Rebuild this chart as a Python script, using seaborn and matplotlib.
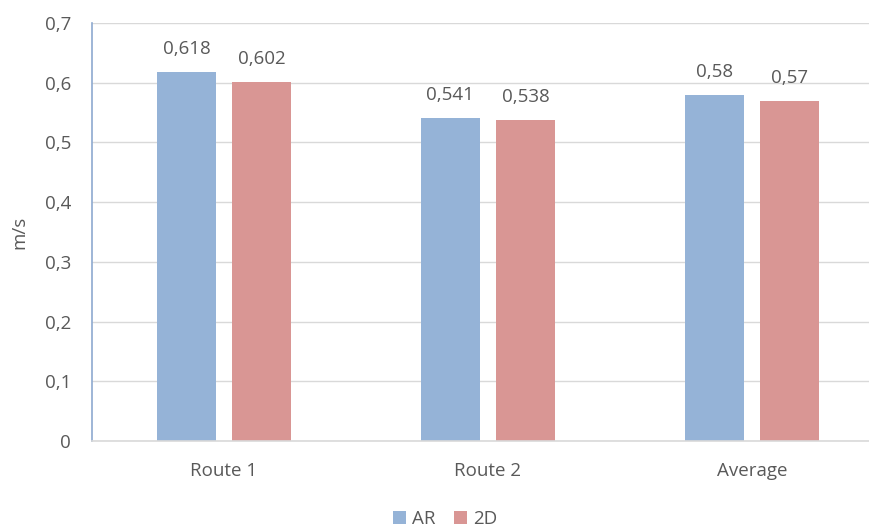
import matplotlib
matplotlib.use("Agg")
import matplotlib.pyplot as plt
import seaborn as sns
import pandas as pd
from matplotlib.ticker import FuncFormatter
from matplotlib.patches import Patch

categories = ["Route 1", "Route 2", "Average"]
series_names = ["AR", "2D"]
ar_values = [0.618, 0.541, 0.58]
td_values = [0.602, 0.538, 0.57]
y_ticks = [0, 0.1, 0.2, 0.3, 0.4, 0.5, 0.6, 0.7]

colors = {"AR": "#95B3D7", "2D": "#D99694"}
text_color = "#595959"
grid_color = "#D9D9D9"
fs = 13.5

df = pd.DataFrame({
    "category": categories * 2,
    "series": [series_names[0]] * len(categories) + [series_names[1]] * len(categories),
    "value": ar_values + td_values,
})

sns.set_theme(style="white")
plt.rcParams["font.family"] = ["Open Sans", "DejaVu Sans"]

fig = plt.figure(figsize=(8.7, 5.28), dpi=100)
# plot area runs past the right edge of the figure
ax = fig.add_axes([92 / 870, 1 - 441 / 528, 792 / 870, (441 - 23) / 528])

sns.barplot(data=df, x="category", y="value", hue="series", order=categories,
            hue_order=series_names, palette=colors, width=0.57, gap=0.22,
            ax=ax, legend=False, saturation=1, edgecolor="none")

ax.set_ylim(0, 0.7)
ax.set_xlim(-0.5, len(categories) - 0.5)
ax.set_yticks(y_ticks)
ax.yaxis.set_major_formatter(FuncFormatter(lambda v, _: f"{v:g}".replace(".", ",")))
ax.grid(axis="y", color=grid_color, linewidth=1)
ax.set_axisbelow(True)

for side in ["top", "right"]:
    ax.spines[side].set_visible(False)
ax.spines["left"].set_color("#8EA9D0")
ax.spines["left"].set_linewidth(1.2)
ax.spines["bottom"].set_color(grid_color)
ax.spines["bottom"].set_linewidth(1.2)

ax.tick_params(axis="both", length=0, labelsize=fs, colors=text_color)
ax.tick_params(axis="x", pad=15)
ax.tick_params(axis="y", pad=15)
ax.set_xlabel("")
ax.set_ylabel("m/s", fontsize=fs, color=text_color, labelpad=12)

for container, vals in zip(ax.containers, [ar_values, td_values]):
    labels = [f"{v:g}".replace(".", ",") for v in vals]
    ax.bar_label(container, labels=labels, padding=10, fontsize=fs, color=text_color)

handles = [Patch(facecolor=colors[s], edgecolor="none") for s in series_names]
fig.legend(handles, series_names, loc="center", bbox_to_anchor=(445 / 870, 1 - 519 / 528),
           ncol=2, frameon=False, fontsize=fs, handlelength=0.7, handleheight=0.7,
           handletextpad=0.3, columnspacing=1.0, labelcolor=text_color)

fig.savefig("out.png", dpi=100)
